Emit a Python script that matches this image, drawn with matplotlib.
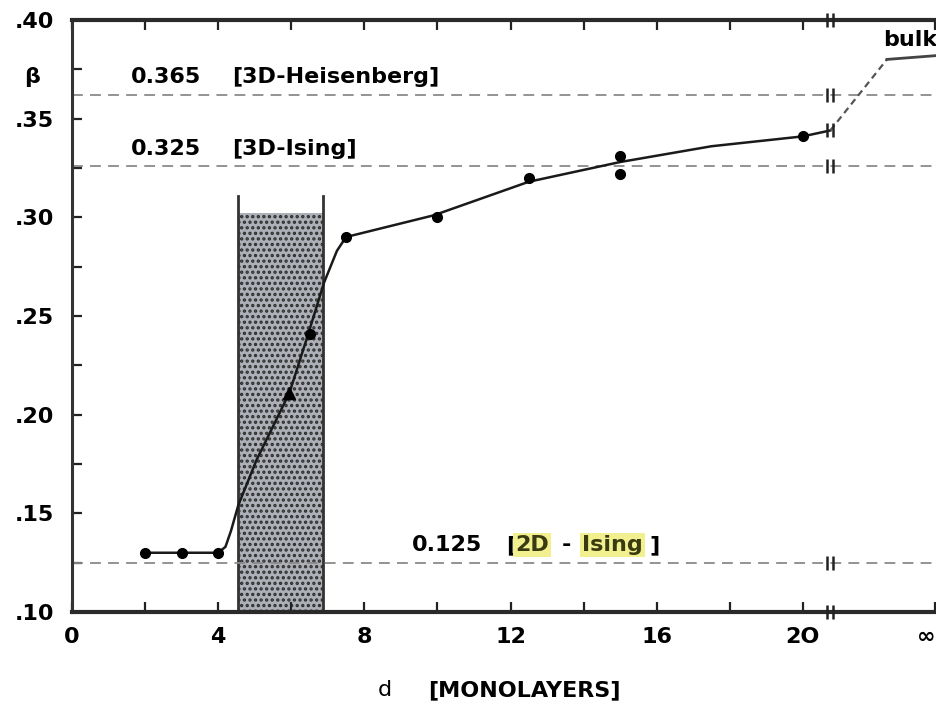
"""Critical exponent beta versus film thickness d (monolayers), scanned-figure redraw."""
import numpy as np
import matplotlib
matplotlib.use("Agg")
import matplotlib.pyplot as plt

# measured points
pt_x = [2, 3, 4, 6.5, 7.5, 10, 12.5, 15, 15, 20]
pt_y = [0.130, 0.130, 0.130, 0.241, 0.290, 0.300, 0.320, 0.331, 0.322, 0.341]
tri_x = [5.95]
tri_y = [0.211]

# drawn guide curve
curve_x = [2, 3, 4, 4.2, 4.35, 4.55, 5.05, 5.95, 6.45, 6.9, 7.25, 7.5, 9.9, 12.5, 15, 17.5, 20, 20.75]
curve_y = [0.130, 0.130, 0.130, 0.133, 0.141, 0.154, 0.177, 0.211, 0.240, 0.267, 0.283, 0.290,
           0.301, 0.318, 0.328, 0.336, 0.341, 0.344]

# extrapolation to bulk
bulk_dash_x = [20.75, 22.3]
bulk_dash_y = [0.344, 0.380]
bulk_x = [22.3, 23.7]
bulk_y = [0.380, 0.382]

# reference exponents: line level, value text, model text
ref_levels = [0.362, 0.326, 0.125]
ref_values = ["0.365", "0.325", "0.125"]
ref_models = ["[3D-Heisenberg]", "[3D-Ising]"]

# stippled region and axis break
band_x = [4.55, 6.88]
band_top = 0.302
band_edge_top = 0.311
break_x = 20.74
break_levels = [0.40, 0.362, 0.344, 0.326, 0.125, 0.10]

xticks = [0, 4, 8, 12, 16, 20, 23.62]
xtick_labels = ["0", "4", "8", "12", "16", "2O", "\u221e"]
xminor = [2, 6, 10, 14, 18]
yticks = [0.10, 0.15, 0.20, 0.25, 0.30, 0.35, 0.40]
ytick_labels = [".10", ".15", ".20", ".25", ".30", ".35", ".40"]
yminor = [0.125, 0.175, 0.225, 0.275, 0.325, 0.375]

plt.rcParams["font.family"] = ["DejaVu Sans"]
plt.rcParams["font.weight"] = "bold"
plt.rcParams["hatch.linewidth"] = 1.6
FS = 16

fig = plt.figure(figsize=(9.37, 7.05), dpi=100)
ax = fig.add_axes([0.0768, 0.132, 0.9232, 0.8397])
ax.set_xlim(0, 23.67)
ax.set_ylim(0.10, 0.40)

# stippled band
ax.fill_between(band_x, 0.10, band_top, facecolor="#aeb0b8", edgecolor="#2e2e2e",
                hatch="...", linewidth=0, zorder=1)
for bx in band_x:
    ax.plot([bx, bx], [0.10, band_edge_top], color="#333333", lw=2.0, zorder=2)

# dashed reference lines
for lev in ref_levels:
    ax.axhline(lev, color="#8a8a8a", lw=1.3, ls=(0, (6, 4)), zorder=2)

# curve and points
ax.plot(curve_x, curve_y, color="#1a1a1a", lw=1.8, zorder=3)
ax.plot(bulk_dash_x, bulk_dash_y, color="#555555", lw=1.6, ls=(0, (3, 2)), zorder=3)
ax.plot(bulk_x, bulk_y, color="#444444", lw=2.0, zorder=3)
ax.plot(pt_x, pt_y, "o", color="black", ms=7, zorder=4)
ax.plot(tri_x, tri_y, "^", color="black", ms=8, zorder=4)

# axis-break marks
for lev in break_levels:
    for dx in (-0.08, 0.08):
        ax.plot([break_x + dx], [lev], marker="|", color="#222222", ms=10, mew=1.8,
                zorder=5, clip_on=False)

# annotations
ax.text(1.6, 0.371, ref_values[0], fontsize=FS, va="center", ha="left")
ax.text(4.38, 0.371, ref_models[0], fontsize=FS, va="center", ha="left")
ax.text(1.6, 0.3347, ref_values[1], fontsize=FS, va="center", ha="left")
ax.text(4.38, 0.3347, ref_models[1], fontsize=FS, va="center", ha="left")
ax.text(9.3, 0.134, ref_values[2], fontsize=FS, va="center", ha="left")
hl = dict(boxstyle="square,pad=0.1", facecolor="#f2ef8e", edgecolor="none")
ax.text(11.88, 0.134, "[", fontsize=FS, va="center", ha="left")
ax.text(12.12, 0.134, "2D", fontsize=FS, va="center", ha="left", color="#3a3a10", bbox=hl)
ax.text(13.4, 0.134, "-", fontsize=FS, va="center", ha="left")
ax.text(13.95, 0.134, "Ising", fontsize=FS, va="center", ha="left", color="#3a3a10", bbox=hl)
ax.text(15.8, 0.134, "]", fontsize=FS, va="center", ha="left")
ax.text(23.67, 0.39, "bulk", fontsize=FS, va="center", ha="right")
ax.text(-0.046, 0.371, "\u03b2", fontsize=FS, va="center", ha="center",
        transform=ax.get_yaxis_transform())

# axes styling
for side in ("top", "bottom"):
    ax.spines[side].set_linewidth(3.0)
    ax.spines[side].set_color("#2a2a2a")
ax.spines["left"].set_linewidth(2.2)
ax.spines["left"].set_color("#333333")
ax.spines["right"].set_visible(False)

ax.set_xticks(xticks)
ax.set_xticklabels(xtick_labels, fontsize=FS, fontweight="bold")
ax.get_xticklabels()[-1].set_horizontalalignment("right")
ax.set_xticks(xminor, minor=True)
ax.set_yticks(yticks)
ax.set_yticklabels(ytick_labels, fontsize=FS, fontweight="bold")
ax.set_yticks(yminor, minor=True)
ax.tick_params(axis="x", which="both", direction="in", top=True, length=7, width=1.6,
               pad=11, colors="#222222")
ax.tick_params(axis="y", which="both", direction="in", length=7, width=1.6, pad=13,
               colors="#222222")
ax.tick_params(labelcolor="black")

fig.text(385 / 937, 1 - 690 / 705, "d", fontsize=FS, fontweight="normal", ha="center", va="center")
fig.text(428 / 937, 1 - 690 / 705, "[MONOLAYERS]", fontsize=FS, ha="left", va="center")

fig.savefig("out.png", dpi=100)
